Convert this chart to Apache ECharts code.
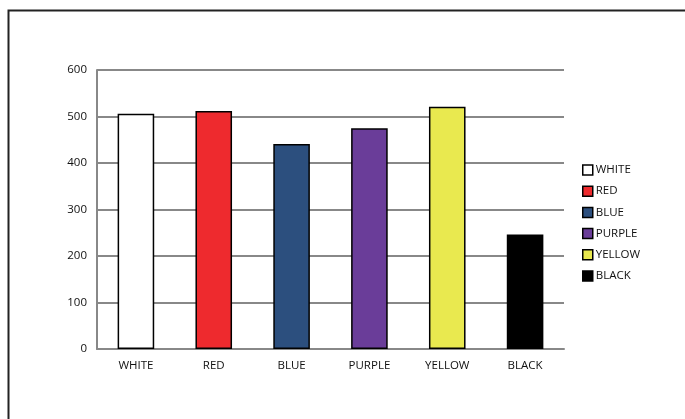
<!DOCTYPE html>
<html><head><meta charset="utf-8">
<script src="https://cdn.jsdelivr.net/npm/echarts@6/dist/echarts.min.js"></script>
<style>html,body{margin:0;padding:0;background:#fff}#c{width:685px;height:419px}</style>
</head><body><div id="c"></div>
<script>
const categories = ['WHITE','RED','BLUE','PURPLE','YELLOW','BLACK'];
const values = [506, 512, 441, 475, 521, 246];
const colors = ['#ffffff','#ee2a2e','#2c4f7e','#6a3d99','#e9e94f','#000000'];
const yTicks = {min:0, max:600, interval:100};

const chart = echarts.init(document.getElementById('c'), null, {renderer:'canvas'});
const series = categories.map((name, i) => ({
  name: name,
  type: 'bar',
  stack: 'all',
  barWidth: '47%',
  data: categories.map((c, j) => j === i ? values[i] : null),
  itemStyle: {color: colors[i], borderColor: '#000', borderWidth: 1.5},
  emphasis: {disabled: true}
}));
chart.setOption({
  animation: false,
  textStyle: {fontFamily: 'Open Sans', color: '#111'},
  graphic: [{type:'rect', shape:{x:8.5, y:10.5, width:700, height:430}, style:{fill:'none', stroke:'#222', lineWidth:2}, silent:true}],
  grid: {left: 97, right: 121, top: 70, bottom: 70},
  xAxis: {
    type: 'category', data: categories,
    axisLine: {lineStyle: {color: '#888', width: 2}},
    axisTick: {show: false},
    axisLabel: {color: '#111', fontSize: 11.5, margin: 11, fontFamily: 'Open Sans'}
  },
  yAxis: {
    type: 'value', min: yTicks.min, max: yTicks.max, interval: yTicks.interval,
    axisLine: {show: true, lineStyle: {color: '#888', width: 2}},
    axisTick: {show: false},
    splitLine: {lineStyle: {color: '#888', width: 2}},
    axisLabel: {color: '#111', fontSize: 11.5, margin: 10, fontFamily: 'Open Sans'}
  },
  legend: {
    orient: 'vertical', left: 577, top: 159,
    itemWidth: 10, itemHeight: 10, itemGap: 9.2,
    icon: 'rect',
    textStyle: {fontSize: 11.5, color: '#111', fontFamily: 'Open Sans', padding: [0,0,0,-2]},
    data: categories.map((c,i)=>({name:c, itemStyle:{color:colors[i], borderColor:'#000', borderWidth:1.5}}))
  },
  series: series
});
</script></body></html>
